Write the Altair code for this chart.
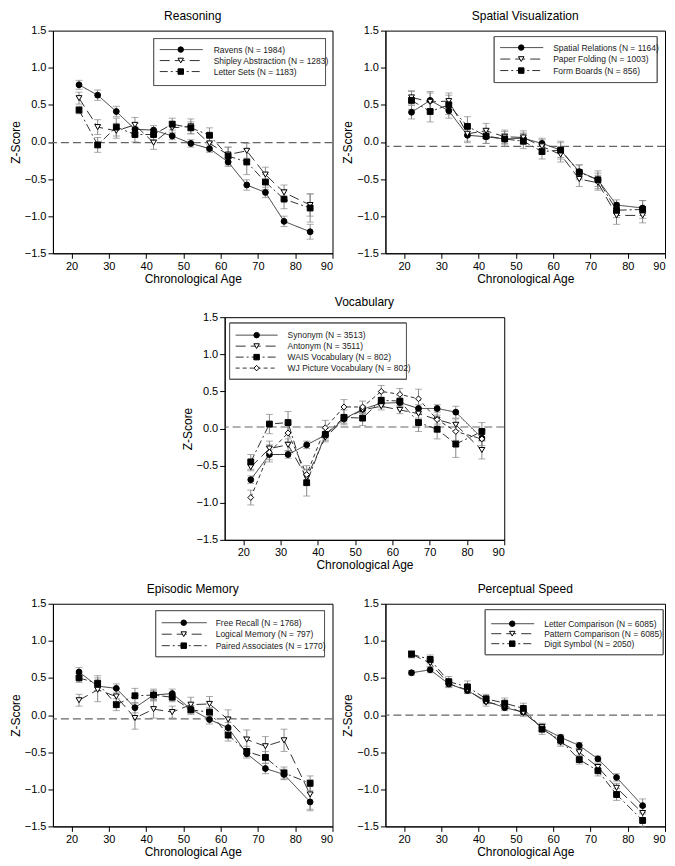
import altair as alt
import pandas as pd

FONT = "Liberation Sans"

AGES = [22, 27, 32, 37, 42, 47, 52, 57, 62, 67, 72, 77, 84]
X_TICKS = [20, 30, 40, 50, 60, 70, 80, 90]
Y_TICKS = [-1.5, -1.0, -0.5, 0.0, 0.5, 1.0, 1.5]

# ---------------- Reasoning ----------------
REASONING_LABELS = ["Ravens (N = 1984)", "Shipley Abstraction (N = 1283)", "Letter Sets (N = 1183)"]
RAVENS = [0.77, 0.63, 0.41, 0.17, 0.16, 0.08, -0.02, -0.09, -0.27, -0.58, -0.68, -1.07, -1.21]
SHIPLEY = [0.59, 0.20, 0.15, 0.23, -0.01, 0.19, 0.21, -0.02, -0.17, -0.12, -0.44, -0.68, -0.85]
LETTER_SETS = [0.43, -0.04, 0.20, 0.10, 0.10, 0.24, 0.19, 0.09, -0.19, -0.27, -0.54, -0.77, -0.89]
RAVENS_ERR = [0.06, 0.07, 0.07, 0.08, 0.06, 0.05, 0.05, 0.05, 0.06, 0.07, 0.07, 0.07, 0.10]
SHIPLEY_ERR = [0.08, 0.10, 0.10, 0.10, 0.09, 0.08, 0.10, 0.10, 0.10, 0.10, 0.10, 0.10, 0.15]
LETTER_SETS_ERR = [0.05, 0.10, 0.12, 0.10, 0.07, 0.08, 0.08, 0.10, 0.12, 0.17, 0.10, 0.13, 0.19]
REASONING_REF = -0.01

# ---------------- Spatial Visualization ----------------
SPATIAL_LABELS = ["Spatial Relations (N = 1164)", "Paper Folding (N = 1003)", "Form Boards (N = 856)"]
SPATIAL_REL = [0.40, 0.56, 0.42, 0.09, 0.07, 0.04, 0.05, -0.02, -0.11, -0.40, -0.51, -0.85, -0.89]
PAPER_FOLD = [0.60, 0.54, 0.55, 0.11, 0.15, 0.07, 0.06, -0.06, -0.17, -0.50, -0.55, -0.99, -0.99]
FORM_BOARDS = [0.56, 0.41, 0.50, 0.21, 0.08, 0.04, 0.01, -0.13, -0.11, -0.41, -0.51, -0.92, -0.91]
SPATIAL_REL_ERR = [0.09, 0.12, 0.10, 0.10, 0.09, 0.07, 0.07, 0.07, 0.10, 0.09, 0.09, 0.07, 0.10]
PAPER_FOLD_ERR = [0.09, 0.12, 0.11, 0.10, 0.10, 0.09, 0.09, 0.09, 0.10, 0.10, 0.10, 0.12, 0.10]
FORM_BOARDS_ERR = [0.12, 0.14, 0.13, 0.13, 0.10, 0.10, 0.10, 0.10, 0.12, 0.10, 0.12, 0.10, 0.12]
SPATIAL_REF = -0.06

# ---------------- Vocabulary ----------------
VOCAB_LABELS = ["Synonym (N = 3513)", "Antonym (N = 3511)", "WAIS Vocabulary (N = 802)", "WJ Picture Vocabulary (N = 802)"]
SYNONYM = [-0.69, -0.35, -0.35, -0.22, -0.09, 0.13, 0.26, 0.34, 0.35, 0.27, 0.27, 0.22, -0.13]
ANTONYM = [-0.52, -0.27, -0.22, -0.66, -0.12, 0.12, 0.25, 0.30, 0.25, 0.20, 0.12, 0.05, -0.29]
WAIS_VOCAB = [-0.45, 0.06, 0.08, -0.73, -0.08, 0.15, 0.14, 0.38, 0.37, 0.08, -0.01, -0.21, -0.04]
WJ_PICTURE = [-0.93, -0.32, -0.06, -0.62, 0.01, 0.29, 0.29, 0.50, 0.46, 0.40, 0.12, -0.04, -0.14]
SYNONYM_ERR = [0.05, 0.10, 0.05, 0.05, 0.05, 0.04, 0.04, 0.04, 0.04, 0.05, 0.05, 0.08, 0.10]
ANTONYM_ERR = [0.05, 0.10, 0.08, 0.10, 0.06, 0.05, 0.05, 0.05, 0.05, 0.06, 0.06, 0.08, 0.12]
WAIS_VOCAB_ERR = [0.10, 0.13, 0.15, 0.18, 0.08, 0.10, 0.10, 0.10, 0.08, 0.12, 0.13, 0.18, 0.12]
WJ_PICTURE_ERR = [0.10, 0.10, 0.12, 0.12, 0.10, 0.10, 0.08, 0.08, 0.08, 0.13, 0.12, 0.12, 0.12]
VOCAB_REF = 0.02

# ---------------- Episodic Memory ----------------
EPISODIC_LABELS = ["Free Recall (N = 1768)", "Logical Memory (N = 797)", "Paired Associates (N = 1770)"]
FREE_RECALL = [0.58, 0.39, 0.36, 0.10, 0.27, 0.29, 0.08, -0.06, -0.17, -0.52, -0.72, -0.80, -1.17]
LOGICAL_MEM = [0.20, 0.34, 0.25, -0.04, 0.08, 0.04, 0.14, 0.15, -0.06, -0.33, -0.42, -0.34, -1.07]
PAIRED_ASSOC = [0.50, 0.43, 0.14, 0.26, 0.27, 0.24, 0.07, 0.04, -0.27, -0.49, -0.57, -0.78, -0.92]
FREE_RECALL_ERR = [0.06, 0.06, 0.06, 0.07, 0.06, 0.06, 0.05, 0.06, 0.07, 0.06, 0.07, 0.07, 0.12]
LOGICAL_MEM_ERR = [0.08, 0.16, 0.10, 0.15, 0.12, 0.08, 0.10, 0.10, 0.13, 0.13, 0.13, 0.15, 0.20]
PAIRED_ASSOC_ERR = [0.06, 0.10, 0.08, 0.10, 0.08, 0.06, 0.06, 0.06, 0.08, 0.07, 0.08, 0.08, 0.10]
EPISODIC_REF = -0.05

# ---------------- Perceptual Speed ----------------
SPEED_LABELS = ["Letter Comparison (N = 6085)", "Pattern Comparison (N = 6085)", "Digit Symbol (N = 2050)"]
LETTER_COMP = [0.57, 0.61, 0.42, 0.33, 0.19, 0.10, 0.04, -0.17, -0.30, -0.41, -0.59, -0.84, -1.22]
PATTERN_COMP = [0.82, 0.70, 0.42, 0.34, 0.17, 0.13, 0.03, -0.16, -0.37, -0.50, -0.70, -0.98, -1.32]
DIGIT_SYMBOL = [0.82, 0.75, 0.45, 0.38, 0.22, 0.16, 0.09, -0.19, -0.34, -0.60, -0.75, -1.07, -1.42]
LETTER_COMP_ERR = [0.03, 0.04, 0.04, 0.04, 0.04, 0.04, 0.04, 0.04, 0.04, 0.04, 0.04, 0.05, 0.09]
PATTERN_COMP_ERR = [0.04, 0.05, 0.05, 0.05, 0.05, 0.05, 0.05, 0.05, 0.05, 0.05, 0.05, 0.06, 0.08]
DIGIT_SYMBOL_ERR = [0.05, 0.06, 0.07, 0.08, 0.06, 0.07, 0.07, 0.07, 0.06, 0.06, 0.07, 0.08, 0.09]
SPEED_REF = 0.0

# ---------------- styles ----------------
KEYS = ["s0", "s1", "s2", "s3"]
DASHES = [[1, 0], [10, 5], [8, 3, 2, 3], [4, 3]]
SHAPES = ["circle", "triangle-down", "square", "diamond"]
FILLS = ["black", "white", "black", "white"]
W, H = 280, 223


def panel(title, labels, values, errors, ref, leg):
    rows = []
    for i, (vals, errs) in enumerate(zip(values, errors)):
        for a, v, e in zip(AGES, vals, errs):
            rows.append({"k": KEYS[i], "age": a, "z": v, "lo": v - e, "hi": v + e})
    df = pd.DataFrame(rows)

    xs = alt.Scale(domain=[15, 90], nice=False, zero=False)
    ys = alt.Scale(domain=[-1.5, 1.5], nice=False, zero=False)
    xa = alt.Axis(values=X_TICKS, title="Chronological Age")
    ya = alt.Axis(values=Y_TICKS, format=".1f", title="Z-Score")
    X = alt.X("age:Q", scale=xs, axis=xa)

    def Y(f):
        return alt.Y(f, scale=ys, axis=ya)

    n = len(labels)
    dash = alt.StrokeDash("k:N", scale=alt.Scale(domain=KEYS, range=DASHES), legend=None)
    shape = alt.Shape("k:N", scale=alt.Scale(domain=KEYS, range=SHAPES), legend=None)
    fill = alt.Fill("k:N", scale=alt.Scale(domain=KEYS, range=FILLS), legend=None)

    base = alt.Chart(df)
    ref_layer = alt.Chart(pd.DataFrame({"ref": [ref]})).mark_rule(
        color="#666", strokeDash=[8, 4], strokeWidth=1.2
    ).encode(y=Y("ref:Q"))
    err = base.mark_rule(color="#888", strokeWidth=1).encode(x=X, y=Y("lo:Q"), y2="hi:Q")
    cap_lo = base.mark_tick(orient="horizontal", size=7, thickness=1, color="#888").encode(x=X, y=Y("lo:Q"))
    cap_hi = base.mark_tick(orient="horizontal", size=7, thickness=1, color="#888").encode(x=X, y=Y("hi:Q"))
    lines = base.mark_line(color="#333", strokeWidth=1).encode(x=X, y=Y("z:Q"), strokeDash=dash, detail="k:N")
    pts = base.mark_point(filled=True, stroke="black", strokeWidth=1, size=34, opacity=1).encode(
        x=X, y=Y("z:Q"), shape=shape, fill=fill
    )

    # legend box (drawn inside the plot area)
    bx0, by0, bx1, by1, lx0, lx1, mx, tx, ry0, rdy = leg
    ldf = pd.DataFrame({"k": KEYS[:n], "label": labels, "ly": [ry0 + i * rdy for i in range(n)]})
    LY = alt.Y("ly:Q", scale=None, axis=None)
    box = alt.Chart(ldf).mark_rect(fill="white", stroke="#555", strokeWidth=1).encode(
        x=alt.value(bx0), x2=alt.value(bx1), y=alt.value(by0), y2=alt.value(by1)
    )
    lrule = alt.Chart(ldf).mark_rule(color="#333", strokeWidth=1).encode(
        x=alt.value(lx0), x2=alt.value(lx1), y=LY, strokeDash=dash
    )
    lpts = alt.Chart(ldf).mark_point(filled=True, stroke="black", strokeWidth=1, size=30, opacity=1).encode(
        x=alt.value(mx), y=LY, shape=shape, fill=fill
    )
    ltxt = alt.Chart(ldf).mark_text(align="left", baseline="middle", fontSize=8.5, font=FONT, color="#222").encode(
        x=alt.value(tx), y=LY, text="label:N"
    )

    return alt.layer(ref_layer, err, cap_lo, cap_hi, lines, pts, box, lrule, lpts, ltxt).properties(
        width=W, height=H, title=alt.TitleParams(title, fontSize=12, font=FONT, fontWeight="normal")
    )


reasoning = panel("Reasoning", REASONING_LABELS, [RAVENS, SHIPLEY, LETTER_SETS],
                  [RAVENS_ERR, SHIPLEY_ERR, LETTER_SETS_ERR], REASONING_REF,
                  (101, 8, 273, 55, 107, 150, 128, 161, 19, 11))
spatial = panel("Spatial Visualization", SPATIAL_LABELS, [SPATIAL_REL, PAPER_FOLD, FORM_BOARDS],
                [SPATIAL_REL_ERR, PAPER_FOLD_ERR, FORM_BOARDS_ERR], SPATIAL_REF,
                (109, 6, 272, 52, 115, 158, 136, 168, 17, 11.5))
vocab = panel("Vocabulary", VOCAB_LABELS, [SYNONYM, ANTONYM, WAIS_VOCAB, WJ_PICTURE],
              [SYNONYM_ERR, ANTONYM_ERR, WAIS_VOCAB_ERR, WJ_PICTURE_ERR], VOCAB_REF,
              (5, 6, 182, 62, 11, 53, 32, 63, 18, 11))
episodic = panel("Episodic Memory", EPISODIC_LABELS, [FREE_RECALL, LOGICAL_MEM, PAIRED_ASSOC],
                 [FREE_RECALL_ERR, LOGICAL_MEM_ERR, PAIRED_ASSOC_ERR], EPISODIC_REF,
                 (103, 7, 272, 53, 109, 154, 131, 163, 19, 11.5))
speed = panel("Perceptual Speed", SPEED_LABELS, [LETTER_COMP, PATTERN_COMP, DIGIT_SYMBOL],
              [LETTER_COMP_ERR, PATTERN_COMP_ERR, DIGIT_SYMBOL_ERR], SPEED_REF,
              (100, 6, 278, 51, 106, 149, 127, 159, 20, 10))

# invisible spacer that pushes the Vocabulary panel towards the middle
spacer = alt.Chart(pd.DataFrame({"a": [0]})).mark_text(opacity=0).encode(
    text=alt.value("")
).properties(width=126, height=10, view=alt.ViewBackground(stroke="transparent"))

top = alt.hconcat(reasoning, spatial, spacing=6)
middle = alt.hconcat(spacer, vocab, spacing=0)
bottom = alt.hconcat(episodic, speed, spacing=6)

chart = alt.vconcat(top, middle, bottom, spacing=10, padding=0).configure_view(
    stroke="black", strokeWidth=1
).configure_axis(
    grid=False, domainColor="black", tickColor="black", labelColor="black", titleColor="black",
    labelFont=FONT, titleFont=FONT, labelFontSize=11, titleFontSize=12, titleFontWeight="normal",
    tickSize=5, labelPadding=2, titlePadding=2
).configure_title(font=FONT, fontSize=12, fontWeight="normal", anchor="middle", color="black", offset=2)

chart.save("out.html", embed_options={"renderer": "svg", "actions": False})
